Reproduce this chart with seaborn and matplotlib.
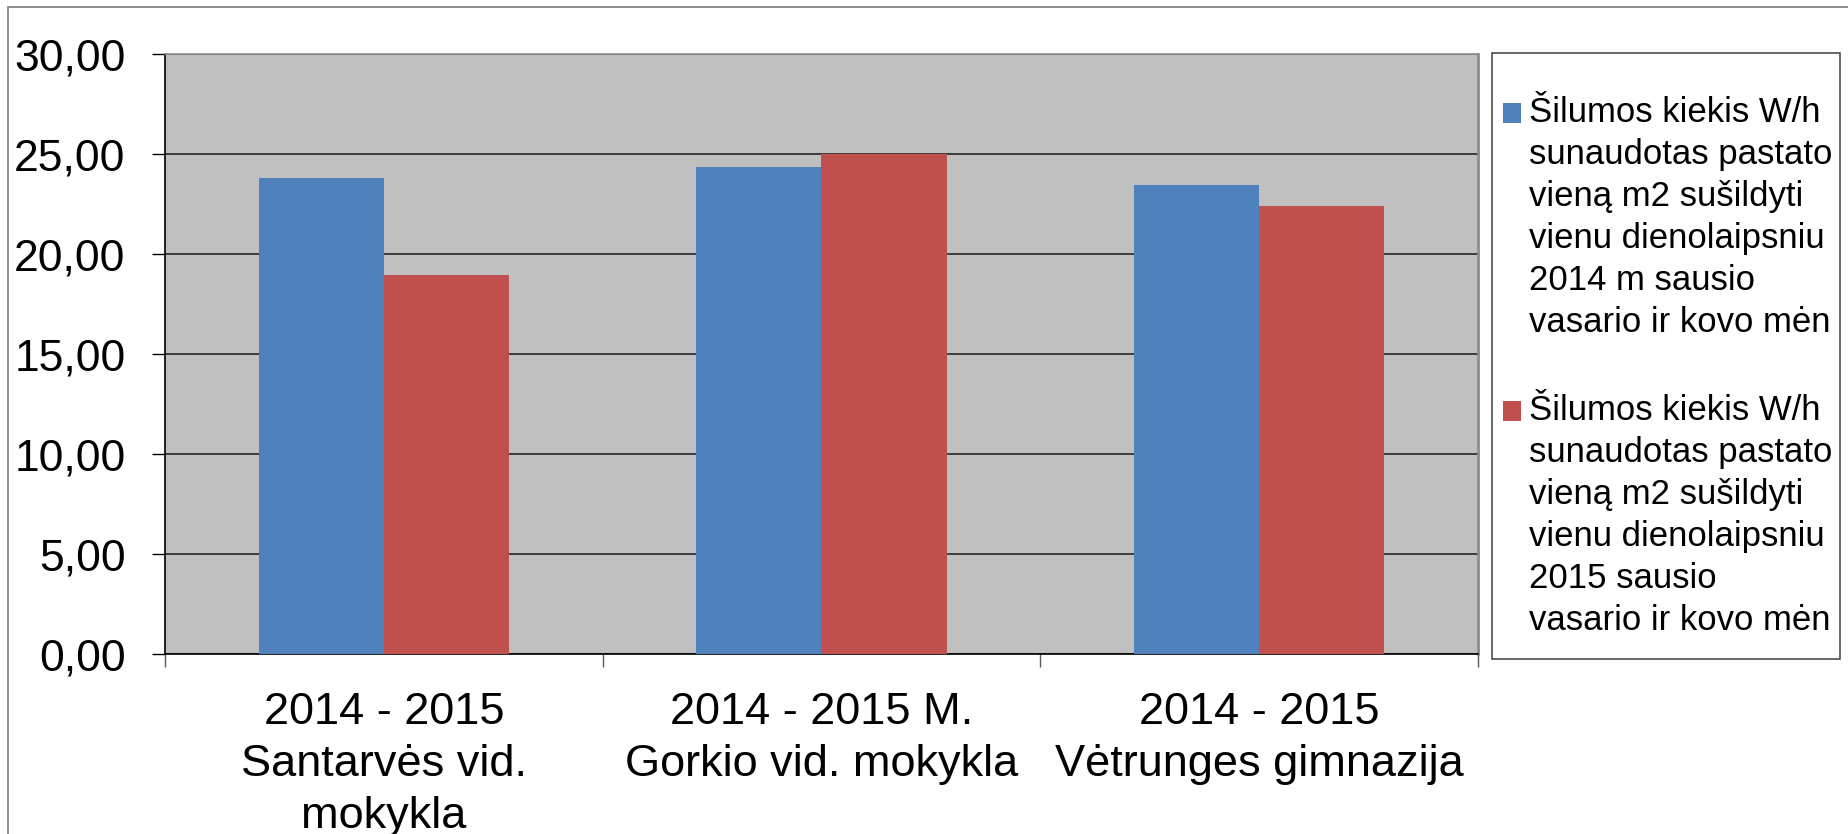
import pandas as pd
import seaborn as sns
import matplotlib.pyplot as plt
from matplotlib.patches import Patch, Rectangle
from matplotlib.legend_handler import HandlerPatch
from matplotlib.ticker import FuncFormatter, FixedLocator

# data
categories = ["2014 - 2015\nSantarvės vid.\nmokykla",
              "2014 - 2015 M.\nGorkio vid. mokykla",
              "2014 - 2015\nVėtrunges gimnazija"]
series_names = ["Šilumos kiekis W/h\nsunaudotas pastato\nvieną m2 sušildyti\nvienu dienolaipsniu\n2014 m sausio\nvasario ir kovo mėn",
                "Šilumos kiekis W/h\nsunaudotas pastato\nvieną m2 sušildyti\nvienu dienolaipsniu\n2015 sausio\nvasario ir kovo mėn"]
values_2014 = [23.80, 24.37, 23.45]
values_2015 = [18.95, 24.99, 22.40]
colors = ["#4F81BD", "#C0504D"]

df = pd.DataFrame({
    "cat": categories * 2,
    "series": [series_names[0]] * 3 + [series_names[1]] * 3,
    "val": values_2014 + values_2015,
})

sns.set_style("white")
plt.rcParams["font.family"] = ["Liberation Sans", "DejaVu Sans"]
plt.rcParams["text.color"] = "black"
plt.rcParams["xtick.color"] = "black"
plt.rcParams["ytick.color"] = "black"

W, H = 1849, 834
fig = plt.figure(figsize=(W / 100, H / 100), dpi=100)
ax = fig.add_axes([165 / W, 180 / H, 1313 / W, 600 / H])

sns.barplot(data=df, x="cat", y="val", hue="series", palette=colors,
            width=0.5714, saturation=1, legend=False, ax=ax, zorder=3)
for p in ax.patches:
    p.set_edgecolor("none")

ax.set_facecolor("#C0C0C0")
ax.set_ylim(0, 30)
ax.set_xlim(-0.5, 2.5)
ax.set_yticks([0, 5, 10, 15, 20, 25, 30])
ax.yaxis.set_major_formatter(FuncFormatter(lambda v, p: f"{v:.2f}".replace(".", ",")))
ax.yaxis.grid(True, color="#262626", lw=1.2, zorder=1)
ax.set_axisbelow(True)
ax.set_xlabel("")
ax.set_ylabel("")

ax.tick_params(axis="y", which="major", direction="out", length=9.4, width=1,
               color="black", pad=19, labelsize=32, left=True)
ax.tick_params(axis="x", which="major", length=0, pad=27, labelsize=32.5)
ax.xaxis.set_minor_locator(FixedLocator([-0.5, 0.5, 1.5, 2.5]))
ax.tick_params(axis="x", which="minor", direction="out", length=9.4, width=1,
               color="#595959", bottom=True)
for lab in ax.get_xticklabels():
    lab.set_linespacing(1.35)

ax.spines["left"].set_color("black")
ax.spines["left"].set_linewidth(1.2)
ax.spines["bottom"].set_color("black")
ax.spines["bottom"].set_linewidth(1.2)
ax.spines["top"].set_color("#8C8C8C")
ax.spines["top"].set_linewidth(1.2)
ax.spines["right"].set_color("#8C8C8C")
ax.spines["right"].set_linewidth(2)

# outer chart border (only top and left visible)
fig.patches.append(Rectangle((8 / W, -0.1), 1.2, 1 - 7 / H + 0.1,
                             transform=fig.transFigure, fill=False,
                             edgecolor="#858585", lw=1.3))
# legend box
fig.patches.append(Rectangle((1492 / W, 1 - 659 / H), (1840 - 1492) / W, (659 - 53) / H,
                             transform=fig.transFigure, fill=False,
                             edgecolor="#404040", lw=1.1))


def square_patch(legend, orig_handle, xdescent, ydescent, width, height, fontsize):
    # shift the square down so it sits beside the first text line
    off = 0.2 * fontsize
    return Rectangle((-xdescent, -ydescent - off), width, height)


handles = [Patch(facecolor=c, edgecolor="none") for c in colors]
leg = fig.legend(handles, series_names, loc="upper left",
                 bbox_to_anchor=(1503 / W, 1 - 96 / H), bbox_transform=fig.transFigure,
                 frameon=False, fontsize=25, borderpad=0, borderaxespad=0,
                 handlelength=0.51, handleheight=0.51, handletextpad=0.23,
                 labelspacing=1.56,
                 handler_map={Patch: HandlerPatch(patch_func=square_patch)})
for t in leg.get_texts():
    t.set_linespacing(1.35)
    t.set_color("black")
# align each handle with the top of its (multi-line) label
for col in leg._legend_handle_box.get_children():
    for row in col.get_children():
        row.align = "top"

fig.savefig("out.png", dpi=100)
